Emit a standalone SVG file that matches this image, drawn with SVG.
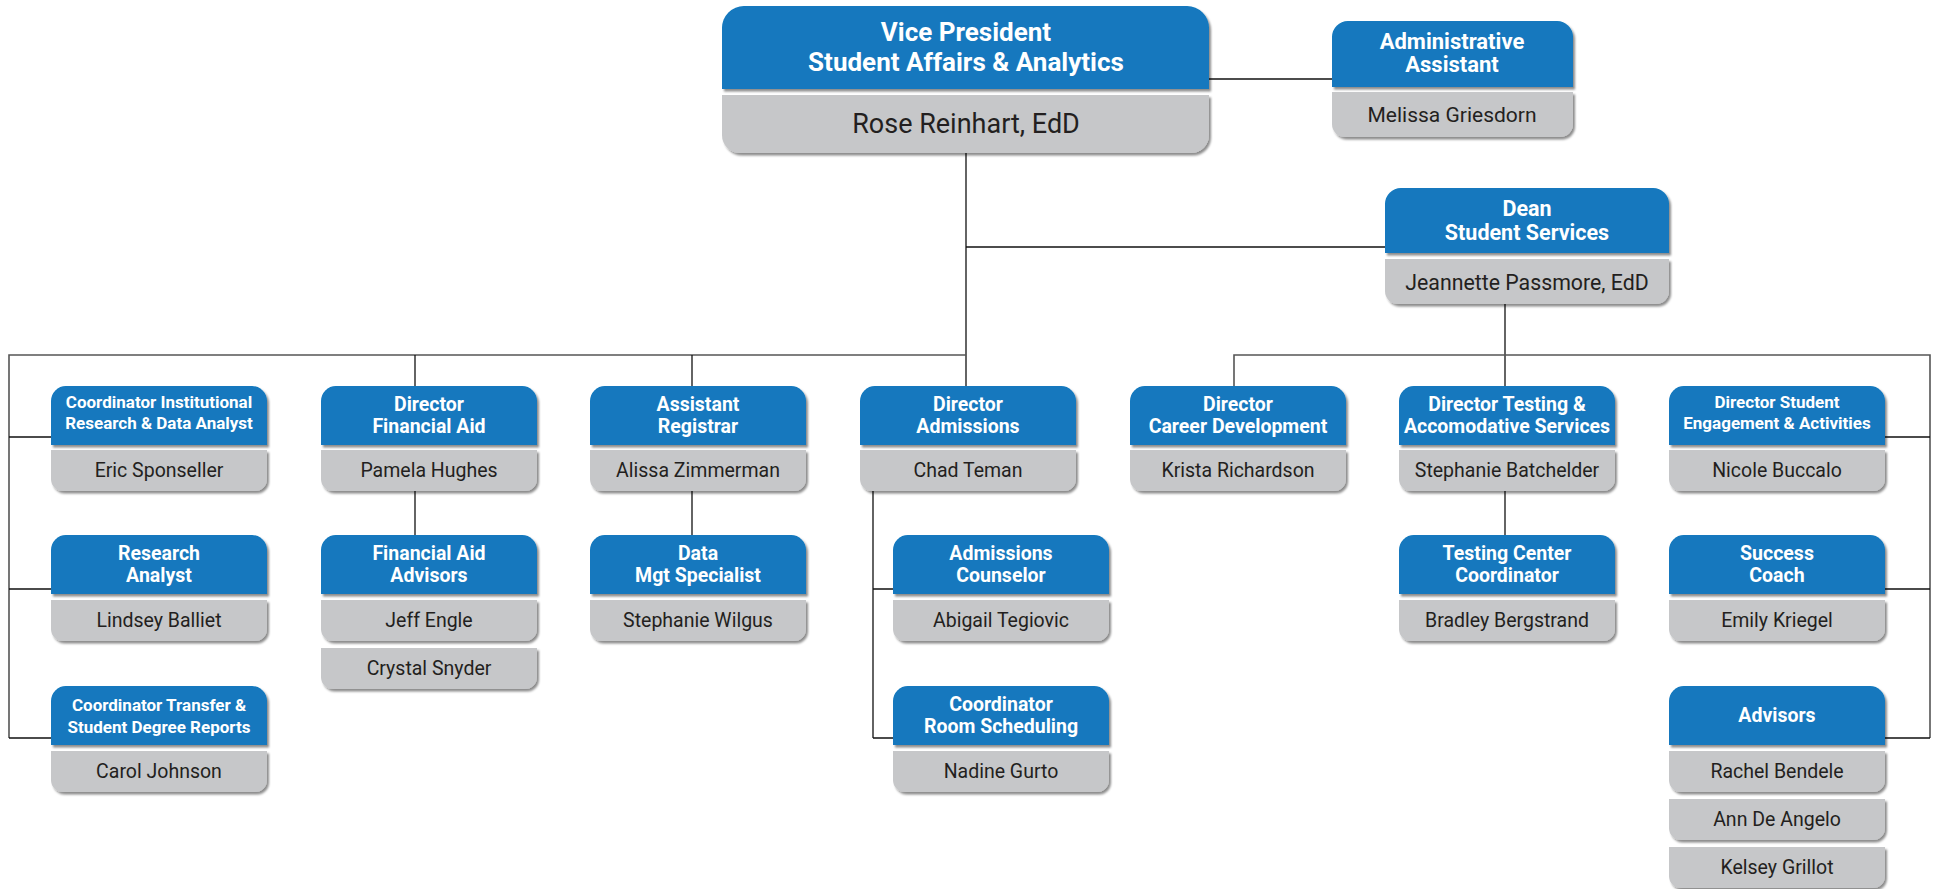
<svg xmlns="http://www.w3.org/2000/svg" xmlns:xlink="http://www.w3.org/1999/xlink" width="1939" height="889" viewBox="0 0 1939 889">
<style>
.hdr{fill:#1278BE}
.nm{fill:#C6C7C9}
.sh{filter:url(#shadow)}
.t{font-family:Roboto,"Liberation Sans",sans-serif;font-weight:700;fill:#FFFFFF;text-anchor:middle;font-size:19.5px}
.ts{font-family:Roboto,"Liberation Sans",sans-serif;font-weight:700;fill:#FFFFFF;text-anchor:middle;font-size:17px}
.n{font-family:Roboto,"Liberation Sans",sans-serif;font-weight:400;fill:#231F20;text-anchor:middle;font-size:19.5px}
.ln{fill:none;stroke:#111;stroke-width:1.3}
.lg{fill:none;stroke:#555;stroke-width:1.6}
</style>
<defs>
<filter id="shadow" x="-5%" y="-10%" width="115%" height="130%">
<feDropShadow dx="2" dy="2.5" stdDeviation="1.3" flood-color="#000" flood-opacity="0.45"/>
</filter>
<path id="h" d="M0,59 V15 A15,15 0 0 1 15,0 H201 A15,15 0 0 1 216,15 V59 Z"/>
<path id="g" d="M0,0 H216 V29 A12,12 0 0 1 204,41 H12 A12,12 0 0 1 0,29 Z"/>
</defs>
<rect width="1939" height="889" fill="#FFFFFF"/>

<g id="connectors">
<path class="ln" d="M1209,79 H1332"/>
<path class="ln" d="M966,153 V386"/>
<path class="ln" d="M966,247 H1385"/>
<path class="lg" d="M966,355 H9 V738"/>
<path class="ln" d="M415,355 V386"/>
<path class="ln" d="M692,355 V386"/>
<path class="ln" d="M9,437 H51 M9,589 H51 M9,738 H51"/>
<path class="ln" d="M1505,304 V386"/>
<path class="lg" d="M1234,386 V355 H1930 V738"/>
<path class="ln" d="M1885,437 H1930 M1885,589 H1930 M1885,738 H1930"/>
<path class="ln" d="M415,491 V535"/>
<path class="ln" d="M692,491 V535"/>
<path class="ln" d="M873,491 V738 M873,589 H893 M873,738 H893"/>
<path class="ln" d="M1505,491 V535"/>
</g>

<g id="vp">
<path class="hdr sh" d="M722,89 V28 A22,22 0 0 1 744,6 H1187 A22,22 0 0 1 1209,28 V89 Z"/>
<path class="nm sh" d="M722,95 H1209 V135 A18,18 0 0 1 1191,153 H740 A18,18 0 0 1 722,135 Z"/>
<text class="t" style="font-size:26px" x="966" y="41">Vice President</text>
<text class="t" style="font-size:26px" x="966" y="71">Student Affairs &amp; Analytics</text>
<text class="n" style="font-size:27px" x="966" y="133">Rose Reinhart, EdD</text>
</g>

<g id="admin-assistant">
<path class="hdr sh" d="M1332,87 V37 A16,16 0 0 1 1348,21 H1557 A16,16 0 0 1 1573,37 V87 Z"/>
<path class="nm sh" d="M1332,92 H1573 V124 A13,13 0 0 1 1560,137 H1345 A13,13 0 0 1 1332,124 Z"/>
<text class="t" style="font-size:22px" x="1452" y="49">Administrative</text>
<text class="t" style="font-size:22px" x="1452" y="72">Assistant</text>
<text class="n" style="font-size:21px" x="1452" y="122">Melissa Griesdorn</text>
</g>

<g id="dean">
<path class="hdr sh" d="M1385,253 V204 A16,16 0 0 1 1401,188 H1653 A16,16 0 0 1 1669,204 V253 Z"/>
<path class="nm sh" d="M1385,259 H1669 V291 A13,13 0 0 1 1656,304 H1398 A13,13 0 0 1 1385,291 Z"/>
<text class="t" style="font-size:21.5px" x="1527" y="216">Dean</text>
<text class="t" style="font-size:21.5px" x="1527" y="240">Student Services</text>
<text class="n" style="font-size:21.3px" x="1527" y="290">Jeannette Passmore, EdD</text>
</g>

<g id="coord-ir">
<use href="#h" class="hdr sh" x="51" y="386"/>
<use href="#g" class="nm sh" x="51" y="450"/>
<text class="ts" x="159" y="408">Coordinator Institutional</text>
<text class="ts" x="159" y="429">Research &amp; Data Analyst</text>
<text class="n" x="159" y="477">Eric Sponseller</text>
</g>

<g id="dir-finaid">
<use href="#h" class="hdr sh" x="321" y="386"/>
<use href="#g" class="nm sh" x="321" y="450"/>
<text class="t" x="429" y="411">Director</text>
<text class="t" x="429" y="433">Financial Aid</text>
<text class="n" x="429" y="477">Pamela Hughes</text>
</g>

<g id="asst-registrar">
<use href="#h" class="hdr sh" x="590" y="386"/>
<use href="#g" class="nm sh" x="590" y="450"/>
<text class="t" x="698" y="411">Assistant</text>
<text class="t" x="698" y="433">Registrar</text>
<text class="n" x="698" y="477">Alissa Zimmerman</text>
</g>

<g id="dir-admissions">
<use href="#h" class="hdr sh" x="860" y="386"/>
<use href="#g" class="nm sh" x="860" y="450"/>
<text class="t" x="968" y="411">Director</text>
<text class="t" x="968" y="433">Admissions</text>
<text class="n" x="968" y="477">Chad Teman</text>
</g>

<g id="dir-career">
<use href="#h" class="hdr sh" x="1130" y="386"/>
<use href="#g" class="nm sh" x="1130" y="450"/>
<text class="t" x="1238" y="411">Director</text>
<text class="t" x="1238" y="433">Career Development</text>
<text class="n" x="1238" y="477">Krista Richardson</text>
</g>

<g id="dir-testing">
<use href="#h" class="hdr sh" x="1399" y="386"/>
<use href="#g" class="nm sh" x="1399" y="450"/>
<text class="t" x="1507" y="411">Director Testing &amp;</text>
<text class="t" x="1507" y="433">Accomodative Services</text>
<text class="n" x="1507" y="477">Stephanie Batchelder</text>
</g>

<g id="dir-engagement">
<use href="#h" class="hdr sh" x="1669" y="386"/>
<use href="#g" class="nm sh" x="1669" y="450"/>
<text class="ts" x="1777" y="408">Director Student</text>
<text class="ts" x="1777" y="429">Engagement &amp; Activities</text>
<text class="n" x="1777" y="477">Nicole Buccalo</text>
</g>

<g id="research-analyst">
<use href="#h" class="hdr sh" x="51" y="535"/>
<use href="#g" class="nm sh" x="51" y="600"/>
<text class="t" x="159" y="560">Research</text>
<text class="t" x="159" y="582">Analyst</text>
<text class="n" x="159" y="627">Lindsey Balliet</text>
</g>

<g id="finaid-advisors">
<use href="#h" class="hdr sh" x="321" y="535"/>
<use href="#g" class="nm sh" x="321" y="600"/>
<use href="#g" class="nm sh" x="321" y="648"/>
<text class="t" x="429" y="560">Financial Aid</text>
<text class="t" x="429" y="582">Advisors</text>
<text class="n" x="429" y="627">Jeff Engle</text>
<text class="n" x="429" y="675">Crystal Snyder</text>
</g>

<g id="data-mgt">
<use href="#h" class="hdr sh" x="590" y="535"/>
<use href="#g" class="nm sh" x="590" y="600"/>
<text class="t" x="698" y="560">Data</text>
<text class="t" x="698" y="582">Mgt Specialist</text>
<text class="n" x="698" y="627">Stephanie Wilgus</text>
</g>

<g id="admissions-counselor">
<use href="#h" class="hdr sh" x="893" y="535"/>
<use href="#g" class="nm sh" x="893" y="600"/>
<text class="t" x="1001" y="560">Admissions</text>
<text class="t" x="1001" y="582">Counselor</text>
<text class="n" x="1001" y="627">Abigail Tegiovic</text>
</g>

<g id="testing-center">
<use href="#h" class="hdr sh" x="1399" y="535"/>
<use href="#g" class="nm sh" x="1399" y="600"/>
<text class="t" x="1507" y="560">Testing Center</text>
<text class="t" x="1507" y="582">Coordinator</text>
<text class="n" x="1507" y="627">Bradley Bergstrand</text>
</g>

<g id="success-coach">
<use href="#h" class="hdr sh" x="1669" y="535"/>
<use href="#g" class="nm sh" x="1669" y="600"/>
<text class="t" x="1777" y="560">Success</text>
<text class="t" x="1777" y="582">Coach</text>
<text class="n" x="1777" y="627">Emily Kriegel</text>
</g>

<g id="coord-transfer">
<use href="#h" class="hdr sh" x="51" y="686"/>
<use href="#g" class="nm sh" x="51" y="751"/>
<text class="ts" x="159" y="711">Coordinator Transfer &amp;</text>
<text class="ts" x="159" y="733">Student Degree Reports</text>
<text class="n" x="159" y="778">Carol Johnson</text>
</g>

<g id="coord-room">
<use href="#h" class="hdr sh" x="893" y="686"/>
<use href="#g" class="nm sh" x="893" y="751"/>
<text class="t" x="1001" y="711">Coordinator</text>
<text class="t" x="1001" y="733">Room Scheduling</text>
<text class="n" x="1001" y="778">Nadine Gurto</text>
</g>

<g id="advisors">
<use href="#h" class="hdr sh" x="1669" y="686"/>
<use href="#g" class="nm sh" x="1669" y="751"/>
<use href="#g" class="nm sh" x="1669" y="799"/>
<use href="#g" class="nm sh" x="1669" y="847"/>
<text class="t" x="1777" y="722">Advisors</text>
<text class="n" x="1777" y="778">Rachel Bendele</text>
<text class="n" x="1777" y="826">Ann De Angelo</text>
<text class="n" x="1777" y="874">Kelsey Grillot</text>
</g>
</svg>
